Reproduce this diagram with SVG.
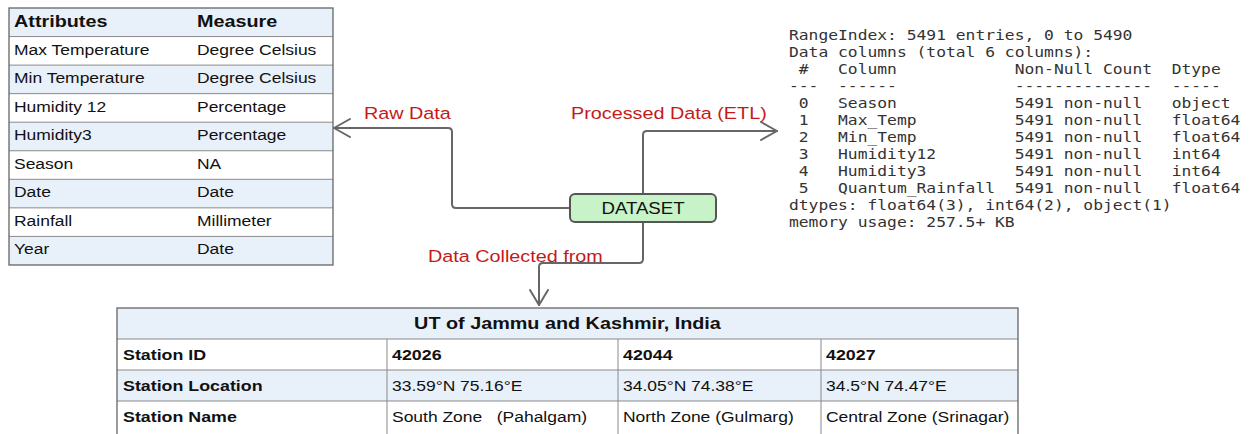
<svg xmlns="http://www.w3.org/2000/svg" width="1251" height="434" viewBox="0 0 1251 434">
  <style>
    .sans { font-family: "Liberation Sans", Arial, sans-serif; fill: #111; }
    .cell { font-size: 15px; }
    .head { font-size: 17px; font-weight: bold; }
    .bcell { font-size: 15.3px; font-weight: bold; }
    .lbl { font-family: "Liberation Sans", Arial, sans-serif; font-size: 17px; fill: #c41a1a; }
    .mono { font-family: "DejaVu Sans Mono", "Liberation Mono", monospace; font-size: 14px; fill: #333; white-space: pre; }
    .band { fill: #e8f0fa; }
    .grid { stroke: #8a8a8a; stroke-width: 1; fill: none; }
    .frame { stroke: #666; stroke-width: 1.3; fill: none; }
    .edge { stroke: #666; stroke-width: 2; fill: none; stroke-linejoin: round; stroke-linecap: round; }
  </style>

  <!-- attribute / unit table -->
  <g id="attributes-table">
    <rect x="9" y="8" width="324" height="257" fill="#fff"/>
    <rect class="band" x="9" y="8" width="324" height="28.55"/>
    <rect class="band" x="9" y="65.1" width="324" height="28.55"/>
    <rect class="band" x="9" y="122.2" width="324" height="28.55"/>
    <rect class="band" x="9" y="179.3" width="324" height="28.55"/>
    <rect class="band" x="9" y="236.4" width="324" height="28.6"/>
    <path class="grid" d="M9 36.55H333M9 65.1H333M9 93.65H333M9 122.2H333M9 150.75H333M9 179.3H333M9 207.85H333M9 236.4H333"/>
    <rect class="frame" x="9" y="8" width="324" height="257"/>
    <g class="sans" transform="scale(1.165 1)">
      <text class="head" x="12.02" y="27">Attributes</text>
      <text class="head" x="169.1" y="27">Measure</text>
      <text class="cell" x="12.02" y="55">Max Temperature</text>
      <text class="cell" x="169.1" y="55">Degree Celsius</text>
      <text class="cell" x="12.02" y="83.5">Min Temperature</text>
      <text class="cell" x="169.1" y="83.5">Degree Celsius</text>
      <text class="cell" x="12.02" y="112">Humidity 12</text>
      <text class="cell" x="169.1" y="112">Percentage</text>
      <text class="cell" x="12.02" y="140.5">Humidity3</text>
      <text class="cell" x="169.1" y="140.5">Percentage</text>
      <text class="cell" x="12.02" y="169">Season</text>
      <text class="cell" x="169.1" y="169">NA</text>
      <text class="cell" x="12.02" y="197.5">Date</text>
      <text class="cell" x="169.1" y="197.5">Date</text>
      <text class="cell" x="12.02" y="226">Rainfall</text>
      <text class="cell" x="169.1" y="226">Millimeter</text>
      <text class="cell" x="12.02" y="254.5">Year</text>
      <text class="cell" x="169.1" y="254.5">Date</text>
    </g>
  </g>

  <!-- pandas DataFrame.info() listing -->
  <g id="dataframe-info" class="mono" transform="scale(1.165 1)">
    <text x="677.25" y="40" xml:space="preserve">RangeIndex: 5491 entries, 0 to 5490</text>
    <text x="677.25" y="57" xml:space="preserve">Data columns (total 6 columns):</text>
    <text x="677.25" y="74" xml:space="preserve"> #   Column            Non-Null Count  Dtype</text>
    <text x="677.25" y="91" xml:space="preserve">---  ------            --------------  -----</text>
    <text x="677.25" y="108" xml:space="preserve"> 0   Season            5491 non-null   object</text>
    <text x="677.25" y="125" xml:space="preserve"> 1   Max_Temp          5491 non-null   float64</text>
    <text x="677.25" y="142" xml:space="preserve"> 2   Min_Temp          5491 non-null   float64</text>
    <text x="677.25" y="159" xml:space="preserve"> 3   Humidity12        5491 non-null   int64</text>
    <text x="677.25" y="176" xml:space="preserve"> 4   Humidity3         5491 non-null   int64</text>
    <text x="677.25" y="193" xml:space="preserve"> 5   Quantum_Rainfall  5491 non-null   float64</text>
    <text x="677.25" y="210" xml:space="preserve">dtypes: float64(3), int64(2), object(1)</text>
    <text x="677.25" y="227" xml:space="preserve">memory usage: 257.5+ KB</text>
  </g>

  <!-- connectors -->
  <g id="connectors">
    <path class="edge" d="M570 208H456Q452 208 452 204V132Q452 128 448 128H334"/>
    <path class="edge" d="M350 119L334 128L350 137"/>
    <path class="edge" d="M643 194V135Q643 131 647 131H777"/>
    <path class="edge" d="M761 122L777 131L761 140"/>
    <path class="edge" d="M643 222V259Q643 263 639 263H543Q539 263 539 267V305"/>
    <path class="edge" d="M530 290L539 305L548 290"/>
    <g transform="scale(1.165 1)">
      <text class="lbl" x="312.45" y="119">Raw Data</text>
      <text class="lbl" x="490.13" y="119">Processed Data (ETL)</text>
      <text class="lbl" x="367.38" y="262">Data Collected from</text>
    </g>
  </g>

  <!-- central dataset node -->
  <g id="dataset-node">
    <rect x="570" y="194" width="146" height="28" rx="5" fill="#c8f2c8" stroke="#555" stroke-width="2"/>
    <text class="sans" x="551.93" y="214" font-size="16" text-anchor="middle" fill="#333" transform="scale(1.165 1)">DATASET</text>
  </g>

  <!-- weather station table -->
  <g id="station-table">
    <rect x="117" y="308" width="901" height="130" fill="#fff"/>
    <rect class="band" x="117" y="308" width="901" height="31"/>
    <rect class="band" x="117" y="370" width="901" height="31"/>
    <path class="grid" d="M117 339H1018M117 370H1018M117 401H1018M387 339V438M618 339V438M821 339V438"/>
    <rect class="frame" x="117" y="308" width="901" height="130"/>
    <g class="sans" transform="scale(1.165 1)">
      <text class="head" x="487.12" y="329" text-anchor="middle">UT of Jammu and Kashmir, India</text>
      <text class="bcell" x="105.58" y="360">Station ID</text>
      <text class="bcell" x="336.48" y="360">42026</text>
      <text class="bcell" x="534.76" y="360">42044</text>
      <text class="bcell" x="709.01" y="360">42027</text>
      <text class="bcell" x="105.58" y="391">Station Location</text>
      <text class="cell" x="336.48" y="391">33.59°N 75.16°E</text>
      <text class="cell" x="534.76" y="391">34.05°N 74.38°E</text>
      <text class="cell" x="709.01" y="391">34.5°N 74.47°E</text>
      <text class="bcell" x="105.58" y="422">Station Name</text>
      <text class="cell" x="336.48" y="422" xml:space="preserve">South Zone   (Pahalgam)</text>
      <text class="cell" x="534.76" y="422">North Zone (Gulmarg)</text>
      <text class="cell" x="709.01" y="422">Central Zone (Srinagar)</text>
    </g>
  </g>
</svg>
